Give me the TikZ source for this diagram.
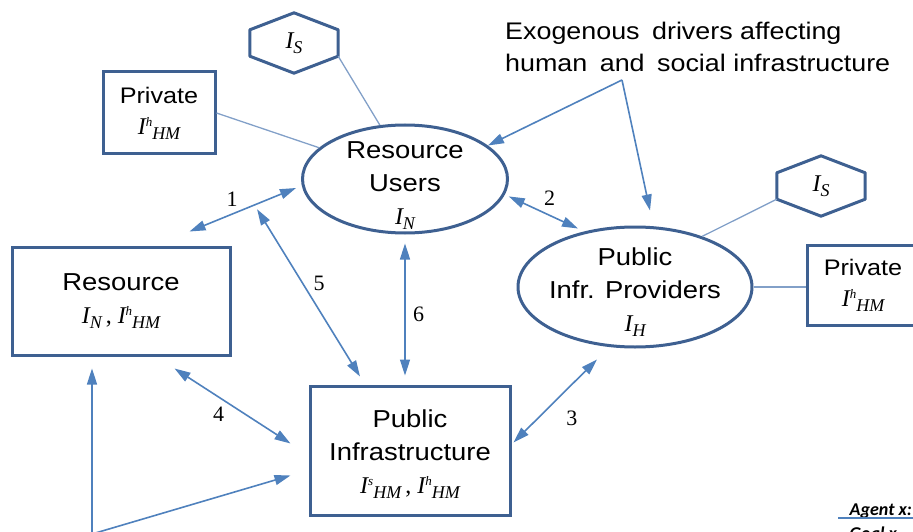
\documentclass[tikz,border=0pt]{standalone}
\usepackage{amsmath}
\usepackage{fontspec}
\setmainfont{Liberation Serif}
\setsansfont[FakeStretch=1.12]{Liberation Sans}
\newfontfamily\agentfont{Carlito}
\usetikzlibrary{shapes.geometric,arrows.meta}

\definecolor{boxblue}{RGB}{62,96,145}
\definecolor{arrblue}{RGB}{79,129,189}
\definecolor{linkblue}{RGB}{130,160,200}

% I with sub- and superscripts, Times-like italic
\newcommand{\Iv}[2]{{\rmfamily\itshape\fontsize{24}{24}\selectfont I\raisebox{8pt}{\fontsize{13}{13}\selectfont #1}\raisebox{-5pt}{\fontsize{18}{18}\selectfont #2}}}
\newcommand{\Is}[1]{{\rmfamily\itshape\fontsize{24}{24}\selectfont I\raisebox{-5pt}{\fontsize{18}{18}\selectfont #1}}}
\newcommand{\Icomma}{{\rmfamily\fontsize{24}{24}\selectfont\,,\ }}

\begin{document}
\begin{tikzpicture}[x=1pt, y=-1pt,
    main/.style = {draw=boxblue, line width=3pt, align=center, inner sep=0pt,
      font=\sffamily\fontsize{24.5}{33}\selectfont},
    box/.style = {main, rectangle},
    agent/.style = {main, ellipse, inner xsep=-25pt, inner ysep=-30pt},
    hexa/.style = {minimum width=88pt, minimum height=60pt, inner sep=0pt,
      append after command={\pgfextra{\draw[draw=boxblue, line width=3pt, line join=round]
        (\tikzlastnode.north) -- ([yshift=-17pt]\tikzlastnode.north east)
        -- ([yshift=17pt]\tikzlastnode.south east) -- (\tikzlastnode.south)
        -- ([yshift=17pt]\tikzlastnode.south west)
        -- ([yshift=-17pt]\tikzlastnode.north west) -- cycle;}}},
    link/.style = {draw=linkblue, line width=1.3pt},
    arr/.style = {draw=arrblue, line width=1.6pt, -{Triangle[length=16pt,width=10pt]}},
    biarr/.style = {arr, {Triangle[length=16pt,width=10pt]}-{Triangle[length=16pt,width=10pt]}},
    num/.style = {font=\rmfamily\fontsize{22}{22}\selectfont, inner sep=0pt}]
    \useasboundingbox (0,0) rectangle (913,532);
    \clip (0,0) rectangle (913,532);

    % agents
    \node[agent, minimum width=205pt, minimum height=108pt] (ru) at (405,179)
      {\rule{0pt}{29pt}Resource\\Users\\\Is{N}};
    \node[agent, minimum width=234pt, minimum height=120pt] (pip) at (635,287)
      {\rule{0pt}{28pt}Public\\Infr. Providers\\\Is{H}};

    % boxes
    \node[box, minimum width=218pt, minimum height=108pt] (res) at (121,301)
      {Resource\\\Is{N}\Icomma\Iv{h}{HM}};
    \node[box, minimum width=200pt, minimum height=129pt] (pinf) at (410,450.5)
      {\rule{0pt}{25pt}Public\\Infrastructure\\\Iv{s}{HM}\Icomma\Iv{h}{HM}};
    \node[box, minimum width=112pt, minimum height=82pt,
      font=\sffamily\fontsize{22.5}{31}\selectfont] (pl) at (159,113) {Private\\\Iv{h}{HM}};
    \node[box, minimum width=112pt, minimum height=80pt,
      font=\sffamily\fontsize{22.5}{31}\selectfont] (pr) at (863,285) {Private\\\Iv{h}{HM}};

    % social infrastructure
    \node[hexa] (hl) at (294,43) {\Is{S}};
    \node[hexa] (hr) at (821,186) {\Is{S}};
    \draw[link] ([yshift=17pt]hl.south east) -- (ru.115);
    \draw[link] (pl.east) -- (ru.160);
    \draw[link] ([yshift=17pt]hr.south west) -- (pip.37);
    \draw[link] (pip.east) -- (pip.east -| pr.west);

    % exogenous drivers
    \node[anchor=north west, align=left, inner sep=0pt,
      font=\sffamily\fontsize{24}{32}\selectfont] (exo) at (505,22)
      {Exogenous\hspace{5pt} drivers affecting\\human\hspace{5pt} and\hspace{5pt} social infrastructure};
    \coordinate (drv) at (622,80);
    \draw[arr] (drv) -- (ru.22);
    \draw[arr] (drv) -- ([shift={(15,-15)}]pip.north);

    % interactions
    \draw[biarr] ([shift={(-42,-14)}]res.north east) -- coordinate[pos=0.61] (m1)
      node[num, pos=0.4, shift={(0,-15)}] (n1) {1} ([shift={(-5,9)}]ru.west);
    \draw[biarr] ([shift={(5,0)}]ru.-10) --
      node[num, pos=0.59, shift={(0,-17.5)}] (n2) {2} ([shift={(-57,3)}]pip.north);
    \draw[biarr] ([shift={(2,-8)}]pinf.east) --
      node[num, pos=0.5, shift={(16.5,17)}] (n3) {3} ([shift={(-38,11)}]pip.south);
    \draw[biarr] ([shift={(-57,12)}]res.south east) --
      node[num, pos=0.38, shift={(0,17)}] (n4) {4} ([shift={(-18,-7)}]pinf.west);
    \draw[biarr, shorten <=5pt] (m1) --
      node[num, pos=0.46, shift={(16,0)}] (n5) {5} ([shift={(-50,-8)}]pinf.north);
    \draw[biarr, shorten <=9pt, shorten >=9pt] (ru.south) --
      node[num, pos=0.53, shift={(13.5,0)}] (n6) {6} (ru.south |- pinf.north);

    % external input
    \coordinate (src) at (92,534);
    \draw[arr] (src) -- ([shift={(-29,12)}]res.south);
    \draw[arr] (src) -- ([shift={(-18,25)}]pinf.west);

    % agent table
    \node[anchor=base east, inner sep=0pt,
      font=\agentfont\bfseries\itshape\fontsize{18}{18}\selectfont] (agt) at (912,515) {Agent x:};
    \draw[draw=arrblue, line width=1.5pt] ([xshift=-11pt]agt.south west) -- ([xshift=4pt]agt.south east);
    \node[anchor=base west, inner sep=0pt,
      font=\agentfont\bfseries\itshape\fontsize{18}{18}\selectfont] (goal) at (agt.base west |- 0,539) {Goal x};
\end{tikzpicture}
\end{document}
